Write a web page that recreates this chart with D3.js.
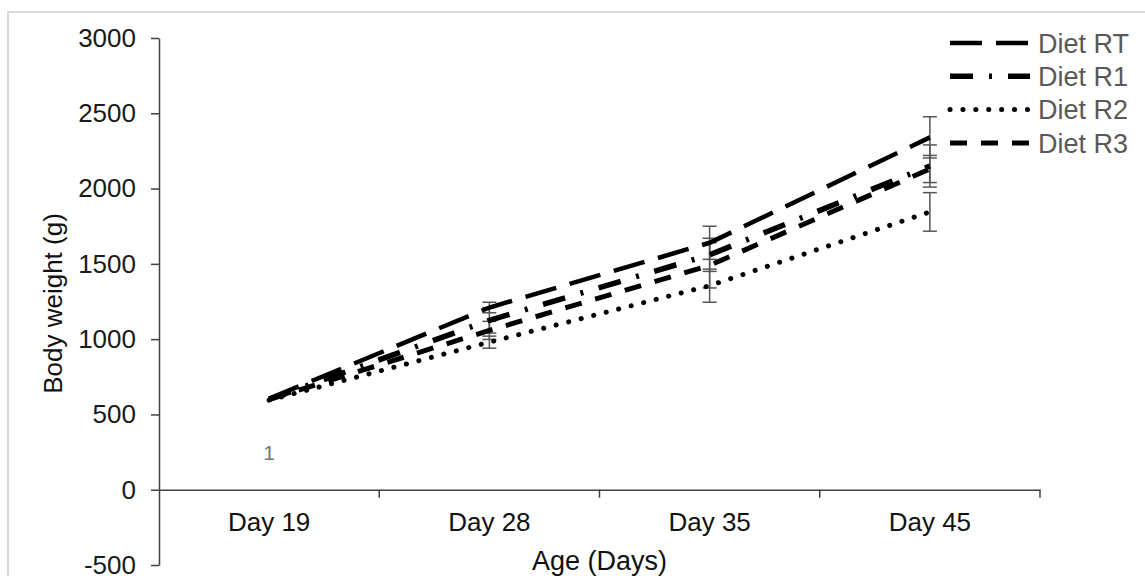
<!DOCTYPE html>
<html>
<head>
<meta charset="utf-8">
<script src="https://cdn.jsdelivr.net/npm/d3@7"></script>
<style>
  body { margin: 0; background: #fff; }
  svg { display: block; font-family: "Liberation Sans", Arial, sans-serif; }
</style>
</head>
<body>
<div class="container"></div>
<script>
const days = ["Day 19", "Day 28", "Day 35", "Day 45"];
const seriesNames = ["Diet RT", "Diet R1", "Diet R2", "Diet R3"];

const rtMean = [605, 1210, 1640, 2340];
const rtErr = [0, 35, 110, 137];
const r1Mean = [600, 1125, 1560, 2150];
const r1Err = [0, 85, 110, 140];
const r2Mean = [595, 980, 1355, 1845];
const r2Err = [0, 40, 110, 128];
const r3Mean = [600, 1058, 1490, 2130];
const r3Err = [0, 60, 150, 90];

const yTicks = [-500, 0, 500, 1000, 1500, 2000, 2500, 3000];

const width = 1145;
const height = 576;
const margin = { top: 38, right: 105, bottom: 11, left: 159 };

// dash styles per series, same order as seriesNames
const dashes = ["32,14", "23,16,3,16", "0.1,12.8", "17,14"];
const widths = [4.5, 5.5, 5, 5];

const series = seriesNames.map((name, i) => ({
  name: name,
  mean: [rtMean, r1Mean, r2Mean, r3Mean][i],
  err: [rtErr, r1Err, r2Err, r3Err][i],
  dash: dashes[i],
  width: widths[i]
}));

let svg = d3.select(".container").append("svg")
  .attr("width", width).attr("height", height);

// light frame round the chart
svg.append("rect")
  .attr("x", 8).attr("y", 12)
  .attr("width", width + 20).attr("height", height + 20)
  .attr("fill", "none").attr("stroke", "#d9d9d9").attr("stroke-width", 2);

let xScale = d3.scaleBand(days, [margin.left, width - margin.right]).padding(0);
let yScale = d3.scaleLinear([-500, 3000], [height - margin.bottom, margin.top]);

// Y axis
let yAxis = d3.axisLeft(yScale).tickValues(yTicks)
  .tickFormat((d) => String(d))
  .tickSize(8).tickSizeOuter(0).tickPadding(15);
let gy = svg.append("g").attr("transform", `translate(${margin.left},0)`).call(yAxis);
gy.select(".domain").attr("stroke", "#404040").attr("stroke-width", 1.5);
gy.selectAll(".tick line").attr("stroke", "#404040").attr("stroke-width", 1.5);
gy.selectAll(".tick text").attr("font-size", 26).attr("fill", "#1a1a1a")
  .attr("font-family", "Liberation Sans, Arial, sans-serif");

// X axis on the zero line, labels in band centres
let y0 = yScale(0);
let xAxis = d3.axisBottom(xScale).tickSize(0).tickSizeOuter(0).tickPadding(23);
let gx = svg.append("g").attr("transform", `translate(0,${y0})`).call(xAxis);
gx.select(".domain").attr("stroke", "#404040").attr("stroke-width", 1.5);
gx.selectAll(".tick text").attr("font-size", 26).attr("fill", "#111")
  .attr("font-family", "Liberation Sans, Arial, sans-serif");

// tick marks between categories
gx.selectAll(".boundary")
  .data(days).enter().append("line")
  .attr("x1", (d) => xScale(d) + xScale.bandwidth())
  .attr("x2", (d) => xScale(d) + xScale.bandwidth())
  .attr("y1", 0).attr("y2", 8)
  .attr("stroke", "#404040").attr("stroke-width", 1.5);

// axis titles
svg.append("text")
  .attr("x", xScale("Day 35")).attr("y", 570)
  .attr("text-anchor", "middle").attr("font-size", 27).attr("fill", "#111")
  .text("Age (Days)");

svg.append("text")
  .attr("transform", `translate(62,${(yScale(3000) + yScale(-500)) / 2 + 2}) rotate(-90)`)
  .attr("text-anchor", "middle").attr("font-size", 26).attr("fill", "#111")
  .text("Body weight (g)");

// stray data label
svg.append("text")
  .attr("x", xScale("Day 19") + xScale.bandwidth() / 2).attr("y", 460)
  .attr("text-anchor", "middle").attr("font-size", 21).attr("fill", "#777")
  .text("1");

const cx = (d) => xScale(d) + xScale.bandwidth() / 2;

// Error bars
let gErr = svg.append("g").attr("stroke", "#555").attr("stroke-width", 1.5);
series.forEach((s) => {
  days.forEach((day, i) => {
    if (!s.err[i]) return;
    let x = cx(day);
    let top = yScale(s.mean[i] + s.err[i]);
    let bot = yScale(s.mean[i] - s.err[i]);
    gErr.append("line").attr("x1", x).attr("x2", x).attr("y1", top).attr("y2", bot);
    gErr.append("line").attr("x1", x - 7).attr("x2", x + 7).attr("y1", top).attr("y2", top);
    gErr.append("line").attr("x1", x - 7).attr("x2", x + 7).attr("y1", bot).attr("y2", bot);
  });
});

// Lines
let line = d3.line()
  .x((d, i) => cx(days[i]))
  .y((d) => yScale(d));

svg.append("g").selectAll("path")
  .data(series).enter().append("path")
  .attr("d", (s) => line(s.mean))
  .attr("fill", "none")
  .attr("stroke", "#000")
  .attr("stroke-width", (s) => s.width)
  .attr("stroke-dasharray", (s) => s.dash)
  .attr("stroke-linecap", (s, i) => i === 2 ? "round" : "butt");

// Legend
let legend = svg.append("g").selectAll("g")
  .data(series).enter().append("g")
  .attr("transform", (s, i) => `translate(950,${43 + i * 33.3})`);

legend.append("line")
  .attr("x1", 0).attr("x2", 80).attr("y1", 0).attr("y2", 0)
  .attr("stroke", "#000")
  .attr("stroke-width", (s) => s.width)
  .attr("stroke-dasharray", (s) => s.dash)
  .attr("stroke-linecap", (s, i) => i === 2 ? "round" : "butt");

legend.append("text")
  .attr("x", 88).attr("y", 0).attr("dy", "0.36em")
  .attr("font-size", 27).attr("fill", "#595959")
  .text((s) => s.name);
</script>
</body>
</html>
